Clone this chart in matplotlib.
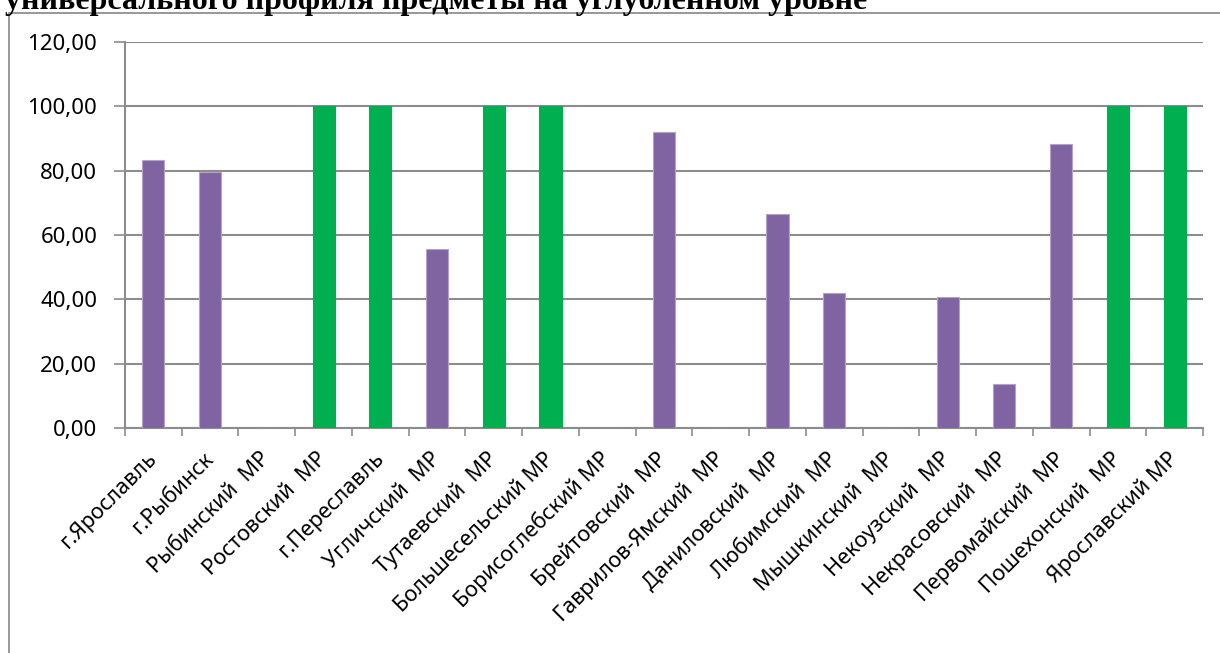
import matplotlib.pyplot as plt
from matplotlib.patches import Rectangle
import numpy as np

plt.rcParams['font.family'] = ['Noto Sans', 'DejaVu Sans']

title_text = 'универсального профиля предметы на углубленном уровне'
districts = ['г.Ярославль', 'г.Рыбинск', 'Рыбинский  МР', 'Ростовский  МР', 'г.Переславль',
             'Угличский  МР', 'Тутаевский  МР', 'Большесельский МР', 'Борисоглебский МР',
             'Брейтовский  МР', 'Гаврилов-Ямский  МР', 'Даниловский  МР', 'Любимский  МР',
             'Мышкинский  МР', 'Некоузский  МР', 'Некрасовский  МР', 'Первомайский  МР',
             'Пошехонский  МР', 'Ярославский МР']
values = [83.2, 79.5, 0, 100, 100, 55.7, 100, 100, 0, 92.1, 0, 66.6, 42.0, 0, 40.8, 13.8, 88.3, 100, 100]

purple = '#8064A2'; green = '#00B050'
colors = [green if v >= 100 else purple for v in values]
edges = ['#B3A2C7' if v < 100 else green for v in values]

fig = plt.figure(figsize=(12.2, 6.53), dpi=100)
# outer chart frame (Excel-like), runs off right/bottom edge
fig.patches.append(Rectangle((9/1220, -0.1), 1.2, (653-13)/653+0.1, transform=fig.transFigure,
                             fill=False, edgecolor='#868686', linewidth=1.2))
fig.text(5/1220, 1 - 9/653, title_text, fontsize=23, fontweight='bold', family='Liberation Serif',
         ha='left', va='baseline')

ax = fig.add_axes([125/1220, (653-428)/653, (1203-125)/1220, (428-42)/653])
x = np.arange(len(districts))
ax.bar(x, values, width=0.39, color=colors, edgecolor=edges, linewidth=0.8, zorder=3)

ax.set_xlim(-0.5, len(districts) - 0.5)
ax.set_ylim(0, 120)
ax.set_yticks(np.arange(0, 121, 20))
ax.set_yticklabels(['{:.2f}'.format(v).replace('.', ',') for v in np.arange(0, 121, 20)], fontsize=16)
ax.yaxis.grid(True, color='#8c8c8c', linewidth=1.5, zorder=0)
ax.set_axisbelow(True)

ax.set_xticks(x)
ax.set_xticklabels(districts, rotation=45, ha='right', va='center', rotation_mode='anchor', fontsize=15.5)
ax.set_xticks(np.arange(-0.5, len(districts)), minor=True)
ax.tick_params(axis='x', which='major', length=0, pad=20)
ax.tick_params(axis='x', which='minor', length=6, width=1.2, color='#8c8c8c')
ax.tick_params(axis='y', length=8, width=1.2, color='#8c8c8c', pad=12)

for s in ['top', 'right']:
    ax.spines[s].set_visible(False)
for s in ['left', 'bottom']:
    ax.spines[s].set_color('#8c8c8c')
    ax.spines[s].set_linewidth(1.5)

fig.savefig('out.png', dpi=100)
